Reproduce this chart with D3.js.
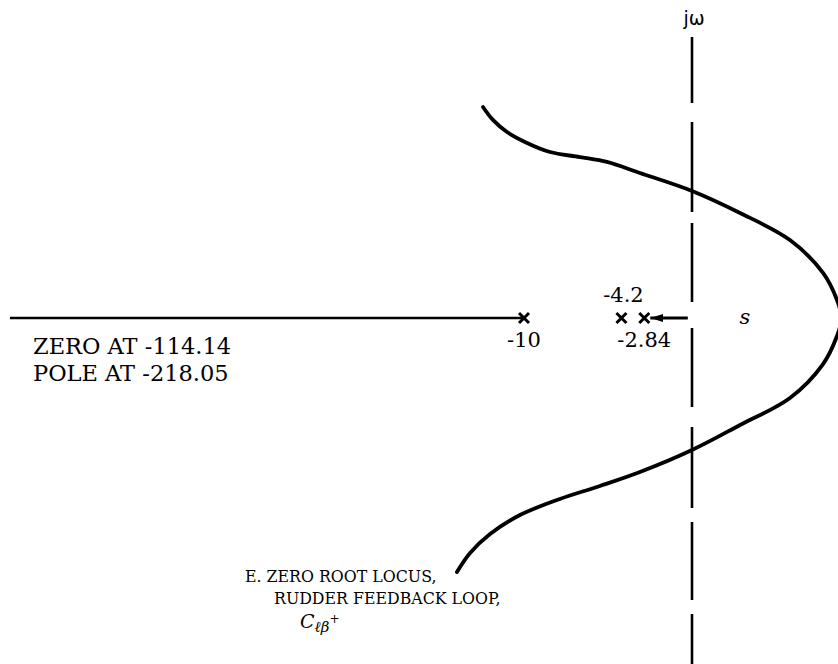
<!DOCTYPE html>
<html>
<head>
<meta charset="utf-8">
<script src="https://cdn.jsdelivr.net/npm/d3@7"></script>
<style>
  html, body { margin: 0; padding: 0; background: #fff; }
  svg { display: block; }
</style>
</head>
<body>
<svg id="chart" width="838" height="664"></svg>
<script>
// Open-loop poles on the real axis and their labels
const poles = [-10, -4.2, -2.84];
const poleLabels = ["-10", "-4.2", "-2.84"];

// Complex branches of the locus (real part, imaginary part), traced top to bottom
const branchRe = [-12.44, -11.85, -11.01, -9.82, -8.45, -6.67, -5.06, -3.10, 0, 2.86, 5.83, 7.80, 8.63, 8.9,
                  8.63, 7.80, 5.83, 2.86, 0, -3.10, -5.48, -7.86, -10.24, -12.02, -13.21, -13.99];
const branchIm = [12.56, 11.79, 11.07, 10.42, 9.88, 9.58, 9.29, 8.63, 7.56, 6.25, 4.64, 2.68, 1.07, 0,
                  -1.07, -2.74, -4.76, -6.37, -7.86, -9.17, -10.0, -10.77, -11.73, -12.86, -13.99, -15.12];

// Real-axis locus segment running off to the far-left zero/pole, ending at -10
const realAxisSegment = [-40.6, -10];
// Short real-axis branch ending at the -2.84 pole
const arrowSegment = [-0.25, -2.84];

// Text
const farNotes = ["ZERO AT -114.14", "POLE AT -218.05"];
const captionLines = ["E. ZERO ROOT LOCUS,", "RUDDER FEEDBACK LOOP,"];

const svg = d3.select("#chart");
const W = 838, H = 664;

// s-plane scales
const x = d3.scaleLinear().domain([-40, 0]).range([20, 692]);
const y = d3.scaleLinear().domain([-19, 19]).range([637.2, -1.2]);

const serif = "'DejaVu Serif', 'Liberation Serif', serif";

// arrowhead
svg.append("defs").append("marker")
  .attr("id", "head")
  .attr("markerUnits", "userSpaceOnUse")
  .attr("markerWidth", 14).attr("markerHeight", 10)
  .attr("refX", 13).attr("refY", 4)
  .attr("orient", "auto")
  .append("path")
  .attr("d", "M0,0 L13,4 L0,8 Z")
  .attr("fill", "#000");

// imaginary (jω) axis, hand-drawn dashes with a break where it meets the real axis
svg.append("line")
  .attr("x1", x(0)).attr("x2", x(0))
  .attr("y1", 37).attr("y2", H)
  .attr("stroke", "#000").attr("stroke-width", 2.6)
  .attr("stroke-dasharray", "66,19,90,11,79,26,79,20,81,14,78,14,60");

svg.append("text")
  .attr("x", x(0) + 2).attr("y", 25)
  .attr("text-anchor", "middle")
  .attr("font-family", "'DejaVu Sans', sans-serif")
  .attr("font-size", 19)
  .text("jω");

// real-axis locus on the far left
svg.append("line")
  .attr("x1", x(realAxisSegment[0])).attr("x2", x(realAxisSegment[1]))
  .attr("y1", y(0)).attr("y2", y(0))
  .attr("stroke", "#000").attr("stroke-width", 2.6);

// branch leaving the jω axis toward -2.84
svg.append("line")
  .attr("x1", x(arrowSegment[0])).attr("x2", x(arrowSegment[1]) + 6)
  .attr("y1", y(0)).attr("y2", y(0))
  .attr("stroke", "#000").attr("stroke-width", 3)
  .attr("marker-end", "url(#head)");

// complex branches
const pts = branchRe.map((r, i) => [r, branchIm[i]]);
svg.append("path")
  .datum(pts)
  .attr("d", d3.line().x(d => x(d[0])).y(d => y(d[1])).curve(d3.curveCatmullRom.alpha(0.5)))
  .attr("fill", "none")
  .attr("stroke", "#000")
  .attr("stroke-width", 3.8)
  .attr("stroke-linecap", "round");

// pole crosses
const s = 5;
svg.selectAll("path.pole")
  .data(poles)
  .join("path")
  .attr("class", "pole")
  .attr("transform", d => `translate(${x(d)},${y(0)})`)
  .attr("d", `M${-s},${-s}L${s},${s}M${-s},${s}L${s},${-s}`)
  .attr("stroke", "#000").attr("stroke-width", 3);

// pole labels: -4.2 above, others below
svg.selectAll("text.plabel")
  .data(poles)
  .join("text")
  .attr("class", "plabel")
  .attr("x", (d, i) => x(d) + (i === 1 ? 2 : 0))
  .attr("y", (d, i) => i === 1 ? y(0) - 16 : y(0) + 29)
  .attr("text-anchor", "middle")
  .attr("font-family", serif)
  .attr("font-size", 21)
  .text((d, i) => poleLabels[i]);

// s-plane marker
svg.append("text")
  .attr("x", 745).attr("y", y(0) + 6)
  .attr("text-anchor", "middle")
  .attr("font-family", serif)
  .attr("font-style", "italic")
  .attr("font-size", 21)
  .text("s");

// far-left zero and pole notes
svg.selectAll("text.note")
  .data(farNotes)
  .join("text")
  .attr("class", "note")
  .attr("x", 33)
  .attr("y", (d, i) => y(0) + 36 + i * 27)
  .attr("font-family", serif)
  .attr("font-size", 22.5)
  .text(d => d);

// caption
const cap = svg.append("g").attr("font-family", serif).attr("font-size", 15.8);
cap.append("text").attr("x", 245).attr("y", 582).text(captionLines[0]);
cap.append("text").attr("x", 274).attr("y", 604).text(captionLines[1]);
const c = cap.append("text").attr("x", 300).attr("y", 628);
c.append("tspan").attr("font-style", "italic").attr("font-size", 19).text("C");
c.append("tspan").attr("font-style", "italic").attr("font-size", 15).attr("dy", 4).text("ℓβ");
c.append("tspan").attr("font-size", 12).attr("dy", -9).text("+");
</script>
</body>
</html>
